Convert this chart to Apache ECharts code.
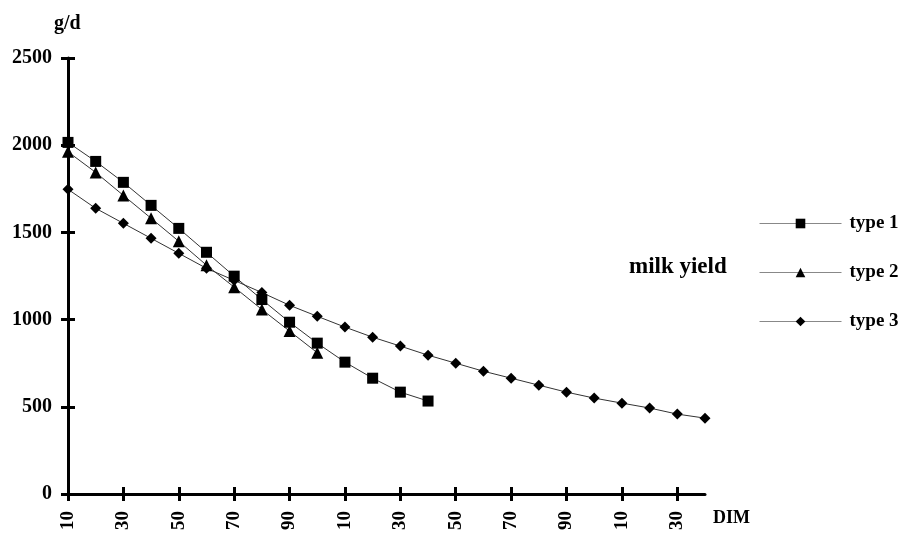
<!DOCTYPE html>
<html>
<head>
<meta charset="utf-8">
<script src="https://cdn.jsdelivr.net/npm/echarts@6/dist/echarts.min.js"></script>
<style>
  html, body { margin: 0; padding: 0; background: #fff; }
  #chart { width: 900px; height: 533px; }
</style>
</head>
<body>
<div id="chart"></div>
<script>
// Days in milk, one point every 10 days
const dim = ['10','20','30','40','50','60','70','80','90','100','110','120',
             '130','140','150','160','170','180','190','200','210','220','230','240'];
// Tick labels printed under every other day
const tickLabels = ['10','30','50','70','90','10','30','50','70','90','10','30'];
const yTicks = [0, 500, 1000, 1500, 2000, 2500];

// Milk yield, g/d
const type1 = [2016, 1907, 1787, 1655, 1523, 1386, 1249, 1115, 985, 865, 756, 664, 584, 533];
const type2 = [1962, 1844, 1712, 1581, 1449, 1312, 1186, 1058, 934, 810];
const type3 = [1747, 1638, 1552, 1466, 1380, 1294, 1225, 1155, 1082, 1019, 957, 899,
               848, 796, 750, 704, 664, 624, 584, 550, 521, 493, 458, 435];

const serif = '"Liberation Serif", "Times New Roman", serif';
const boldText = { fontFamily: serif, fontWeight: 'bold', color: '#000' };

const chart = echarts.init(document.getElementById('chart'));

// Main axis draws the line, labels and outer half of each tick;
// the companion axis draws the inner half so ticks cross the line.
function xAxisDef(main) {
  return {
    type: 'category',
    position: 'bottom',
    data: dim,
    boundaryGap: false,
    axisLine: { show: main, onZero: false, lineStyle: { color: '#000', width: 3 } },
    axisTick: { show: true, inside: !main, length: 7, interval: 1,
                lineStyle: { color: '#000', width: 3 } },
    axisLabel: {
      show: main, interval: 1, rotate: 90, margin: 17,
      fontSize: 19, ...boldText,
      formatter: (v, i) => tickLabels[Math.floor(i / 2)]
    },
    splitLine: { show: false }
  };
}

function yAxisDef(main) {
  return {
    type: 'value',
    position: 'left',
    min: yTicks[0],
    max: yTicks[yTicks.length - 1],
    interval: 500,
    axisLine: { show: main, onZero: false, lineStyle: { color: '#000', width: 3 } },
    axisTick: { show: true, inside: !main, length: 7,
                lineStyle: { color: '#000', width: 3 } },
    axisLabel: { show: main, margin: 16, fontSize: 20, ...boldText,
                 formatter: v => String(v) },
    splitLine: { show: false }
  };
}

function lineSeries(name, data, symbol, size) {
  return {
    name: name,
    type: 'line',
    data: data,
    symbol: symbol,
    symbolSize: size,
    showAllSymbol: true,
    itemStyle: { color: '#000' },
    lineStyle: { color: '#333', width: 1 },
    emphasis: { disabled: true },
    animation: false
  };
}

chart.setOption({
  animation: false,
  grid: { left: 68, right: 195, top: 58, bottom: 39, containLabel: false },
  xAxis: [xAxisDef(true), xAxisDef(false)],
  yAxis: [yAxisDef(true), yAxisDef(false)],
  legend: {
    orient: 'vertical',
    left: 754,
    top: 209,
    itemWidth: 82,
    itemHeight: 12,
    itemGap: 30,
    textStyle: { fontSize: 19, ...boldText, padding: [0, 0, 0, 3] },
    data: [
      { name: 'type 1', itemStyle: { color: '#000' }, lineStyle: { color: '#888', width: 1 } },
      { name: 'type 2', itemStyle: { color: '#000' }, lineStyle: { color: '#888', width: 1 } },
      { name: 'type 3', itemStyle: { color: '#000' }, lineStyle: { color: '#888', width: 1 } }
    ]
  },
  graphic: [
    { type: 'text', left: 54, top: 14, style: { text: 'g/d', font: 'bold 20px ' + serif, fill: '#000' } },
    { type: 'text', left: 713, top: 509, style: { text: 'DIM', font: 'bold 18px ' + serif, fill: '#000' } },
    { type: 'text', left: 629, top: 256, style: { text: 'milk yield', font: 'bold 23px ' + serif, fill: '#000' } }
  ],
  series: [
    lineSeries('type 1', type1, 'rect', 11),
    lineSeries('type 2', type2, 'triangle', 12),
    lineSeries('type 3', type3, 'diamond', 11)
  ]
});
</script>
</body>
</html>
